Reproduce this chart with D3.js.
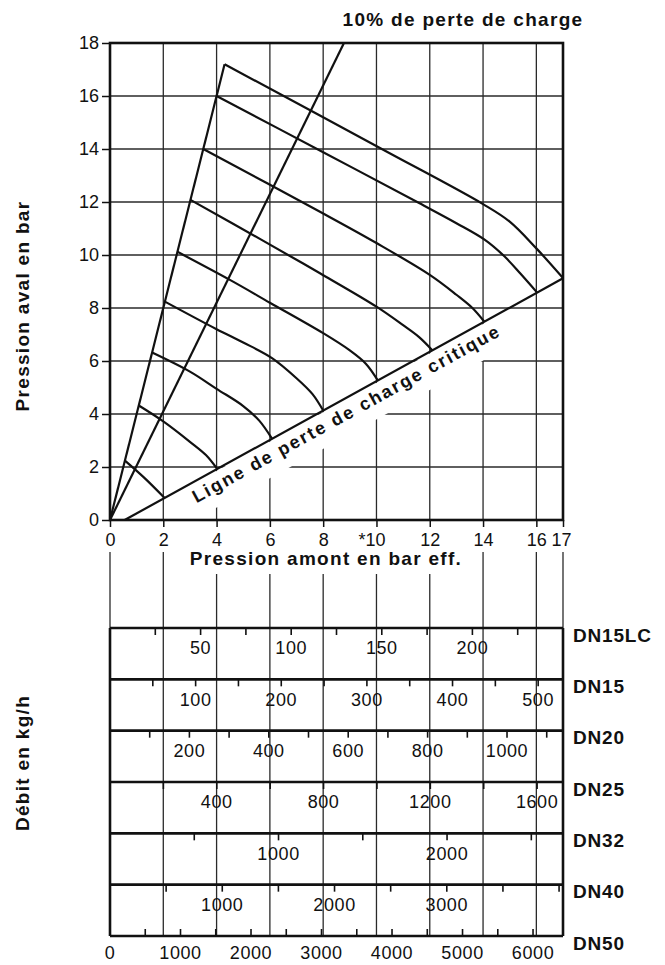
<!DOCTYPE html>
<html>
<head>
<meta charset="utf-8">
<script src="https://cdn.jsdelivr.net/npm/d3@7"></script>
<style>
  body { margin: 0; background: #fff; }
  text { font-family: "Liberation Sans", Arial, sans-serif; fill: #111; }
</style>
</head>
<body>
<svg id="chart" width="665" height="965"></svg>
<script>
// Pressure chart axes
const upstreamTicks = [0, 2, 4, 6, 8, 10, 12, 14, 16, 17];
const upstreamLabels = ["0", "2", "4", "6", "8", "*10", "12", "14", "16", "17"];
const downstreamTicks = [0, 2, 4, 6, 8, 10, 12, 14, 16, 18];

// Straight lines (upstream bar, downstream bar)
const steepLine = [[0, 0], [4.3, 17.2]];
const lossLine10 = [[0, 0], [8.78, 18]];
const criticalLine = [[0.55, 0], [17, 9.12]];

// Flow curves
const curveA = [[0.56, 2.24], [1.3, 1.58], [2.05, 0.83]];
const curveB = [[1.08, 4.32], [2, 3.72], [3, 2.95], [3.6, 2.45], [4.02, 1.93]];
const curveC = [[1.58, 6.32], [3, 5.6], [4, 4.95], [5, 4.3], [5.6, 3.75], [6.08, 3.07]];
const curveD = [[2.06, 8.24], [4, 7.2], [5, 6.7], [6.08, 6.11], [7, 5.35], [7.6, 4.75], [8.0, 4.13]];
const curveE = [[2.53, 10.12], [4.5, 9.06], [6, 8.2], [8, 7.05], [9, 6.4], [9.6, 5.9], [10.05, 5.27]];
const curveF = [[3.02, 12.08], [5.69, 10.57], [7.88, 9.31], [10, 8.05], [11, 7.35], [11.6, 6.9], [12.1, 6.4]];
const curveG = [[3.5, 14.0], [7.88, 11.63], [10, 10.45], [12, 9.25], [13, 8.5], [13.6, 8.0], [14.05, 7.48]];
const curveH = [[4.0, 16.0], [8, 13.88], [11.6, 11.96], [13, 11.2], [14.07, 10.57], [14.8, 9.95], [15.4, 9.3], [16.03, 8.58]];
const curveI = [[4.3, 17.2], [10.2, 14.0], [14.0, 11.92], [15, 11.26], [16, 10.25], [17, 9.13]];

// Flow scales in kg/h, one strip per valve size
const sizes = ["DN15LC", "DN15", "DN20", "DN25", "DN32", "DN40", "DN50"];
const flowMax = [250, 529, 1141, 1697, 2688, 4035, 6425];
const flowStep = [25, 50, 100, 200, 500, 500, 500];
const flowLabels = [
  [50, 100, 150, 200],
  [100, 200, 300, 400, 500],
  [200, 400, 600, 800, 1000],
  [400, 800, 1200, 1600],
  [1000, 2000],
  [1000, 2000, 3000],
  [0, 1000, 2000, 3000, 4000, 5000, 6000]
];

const svg = d3.select("#chart");
const plot = { left: 110, right: 563, top: 43, bottom: 520 };
const strips = { top: 628, bottom: 936, linesFrom: 552 };

const x = d3.scaleLinear().domain([0, 17]).range([plot.left, plot.right]);
const y = d3.scaleLinear().domain([0, 18]).range([plot.bottom, plot.top]);

// grid of the pressure chart
svg.append("g")
  .selectAll("line")
  .data(upstreamTicks.filter(d => d > 0 && d < 17))
  .join("line")
  .attr("x1", d => x(d)).attr("x2", d => x(d))
  .attr("y1", plot.top).attr("y2", plot.bottom)
  .attr("stroke", "#2a2a2a").attr("stroke-width", 1.3);

svg.append("g")
  .selectAll("line")
  .data(downstreamTicks.filter(d => d > 0 && d < 18))
  .join("line")
  .attr("x1", plot.left).attr("x2", plot.right)
  .attr("y1", d => y(d)).attr("y2", d => y(d))
  .attr("stroke", "#2a2a2a").attr("stroke-width", 1.3);

// white band below the critical line, holding its label
const p0 = [x(criticalLine[0][0]), y(criticalLine[0][1])];
const p1 = [x(criticalLine[1][0]), y(criticalLine[1][1])];
const angle = Math.atan2(p0[1] - p1[1], p1[0] - p0[0]) * 180 / Math.PI;
const labelG = svg.append("g")
  .attr("transform", `translate(${p0[0]},${p0[1]}) rotate(${-angle})`);
labelG.append("rect")
  .attr("x", 68).attr("y", 1.5)
  .attr("width", 372).attr("height", 32)
  .attr("fill", "#fff");
labelG.append("text")
  .attr("x", 71).attr("y", 20)
  .attr("font-size", 18).attr("font-weight", "bold")
  .attr("letter-spacing", 2)
  .text("Ligne de perte de charge critique");

// axes
const yAxis = d3.axisLeft(y).tickValues(downstreamTicks).tickSize(8).tickPadding(3);
const yG = svg.append("g").attr("transform", `translate(${plot.left},0)`).call(yAxis);
const xAxis = d3.axisBottom(x).tickValues(upstreamTicks).tickSize(7).tickPadding(6)
  .tickFormat((d, i) => upstreamLabels[i]);
const xG = svg.append("g").attr("transform", `translate(0,${plot.bottom})`).call(xAxis);
[yG, xG].forEach(g => {
  g.select(".domain").remove();
  g.selectAll(".tick line").attr("stroke", "#111").attr("stroke-width", 1.5);
  g.selectAll(".tick text").attr("font-size", 18).attr("fill", "#111")
    .style("font-family", "'Liberation Sans', Arial, sans-serif");
});
xG.selectAll(".tick text").attr("dx", d => d === 10 ? -5 : d === 17 ? -2 : 0);

// frame
svg.append("rect")
  .attr("x", plot.left).attr("y", plot.top)
  .attr("width", plot.right - plot.left).attr("height", plot.bottom - plot.top)
  .attr("fill", "none").attr("stroke", "#111").attr("stroke-width", 2.6);

// lines and curves
const line = d3.line().x(d => x(d[0])).y(d => y(d[1]));
const curve = d3.line().x(d => x(d[0])).y(d => y(d[1])).curve(d3.curveCatmullRom.alpha(0.5));

[steepLine, lossLine10, criticalLine].forEach(d => {
  svg.append("path").attr("d", line(d))
    .attr("fill", "none").attr("stroke", "#111").attr("stroke-width", 2.2);
});
[curveA, curveB, curveC, curveD, curveE, curveF, curveG, curveH, curveI].forEach(d => {
  svg.append("path").attr("d", curve(d))
    .attr("fill", "none").attr("stroke", "#111").attr("stroke-width", 2.2);
});

// titles
svg.append("text")
  .attr("x", 463).attr("y", 26)
  .attr("text-anchor", "middle")
  .attr("font-size", 19).attr("font-weight", "bold").attr("letter-spacing", 1.3)
  .text("10% de perte de charge");

svg.append("text")
  .attr("transform", "translate(29,306) rotate(-90)")
  .attr("text-anchor", "middle")
  .attr("font-size", 19).attr("font-weight", "bold").attr("letter-spacing", 1.3)
  .text("Pression aval en bar");

svg.append("text")
  .attr("transform", "translate(29,763) rotate(-90)")
  .attr("text-anchor", "middle")
  .attr("font-size", 19).attr("font-weight", "bold").attr("letter-spacing", 1.3)
  .text("Débit en kg/h");

// lower part: pressure lines carried down over the flow strips
svg.append("g")
  .selectAll("line")
  .data(upstreamTicks)
  .join("line")
  .attr("x1", d => x(d)).attr("x2", d => x(d))
  .attr("y1", strips.linesFrom).attr("y2", strips.bottom)
  .attr("stroke", "#2a2a2a").attr("stroke-width", 1.3);

const titleMask = svg.append("rect").attr("fill", "#fff");
const xTitle = svg.append("text")
  .attr("x", 326).attr("y", 565)
  .attr("text-anchor", "middle")
  .attr("font-size", 19).attr("font-weight", "bold").attr("letter-spacing", 1.3)
  .text("Pression amont en bar eff.");
const tb = xTitle.node().getBBox();
titleMask
  .attr("x", tb.x - 2).attr("y", tb.y - 1)
  .attr("width", tb.width + 4).attr("height", 575 - tb.y);

const stripY = d3.scaleLinear().domain([0, sizes.length - 1]).range([strips.top, strips.bottom]);

// strip borders
svg.append("g")
  .selectAll("line")
  .data([0, 17])
  .join("line")
  .attr("x1", d => x(d)).attr("x2", d => x(d))
  .attr("y1", strips.top).attr("y2", strips.bottom)
  .attr("stroke", "#111").attr("stroke-width", 2.6);

sizes.forEach((name, i) => {
  const yy = stripY(i);
  const last = i === sizes.length - 1;
  const fx = d3.scaleLinear().domain([0, flowMax[i]]).range([plot.left, plot.right]);
  const g = svg.append("g");

  g.append("line")
    .attr("x1", plot.left).attr("x2", plot.right)
    .attr("y1", yy).attr("y2", yy)
    .attr("stroke", "#111").attr("stroke-width", 2.6);

  const ticks = d3.range(flowStep[i], flowMax[i], flowStep[i]);
  g.selectAll(".flow-tick")
    .data(ticks)
    .join("line")
    .attr("class", "flow-tick")
    .attr("x1", d => fx(d)).attr("x2", d => fx(d))
    .attr("y1", yy).attr("y2", last ? yy - 7 : yy + 7)
    .attr("stroke", "#111").attr("stroke-width", 1.6);

  g.selectAll(".flow-label")
    .data(flowLabels[i])
    .join("text")
    .attr("class", "flow-label")
    .attr("x", d => fx(d))
    .attr("y", last ? yy + 17 : yy + 20)
    .attr("dy", "0.35em")
    .attr("text-anchor", "middle")
    .attr("font-size", 18).attr("letter-spacing", 0.6)
    .text(d => d);

  g.append("text")
    .attr("x", 573).attr("y", yy + 7)
    .attr("dy", "0.35em")
    .attr("font-size", 19).attr("font-weight", "bold").attr("letter-spacing", 0.8)
    .text(name);
});
</script>
</body>
</html>
